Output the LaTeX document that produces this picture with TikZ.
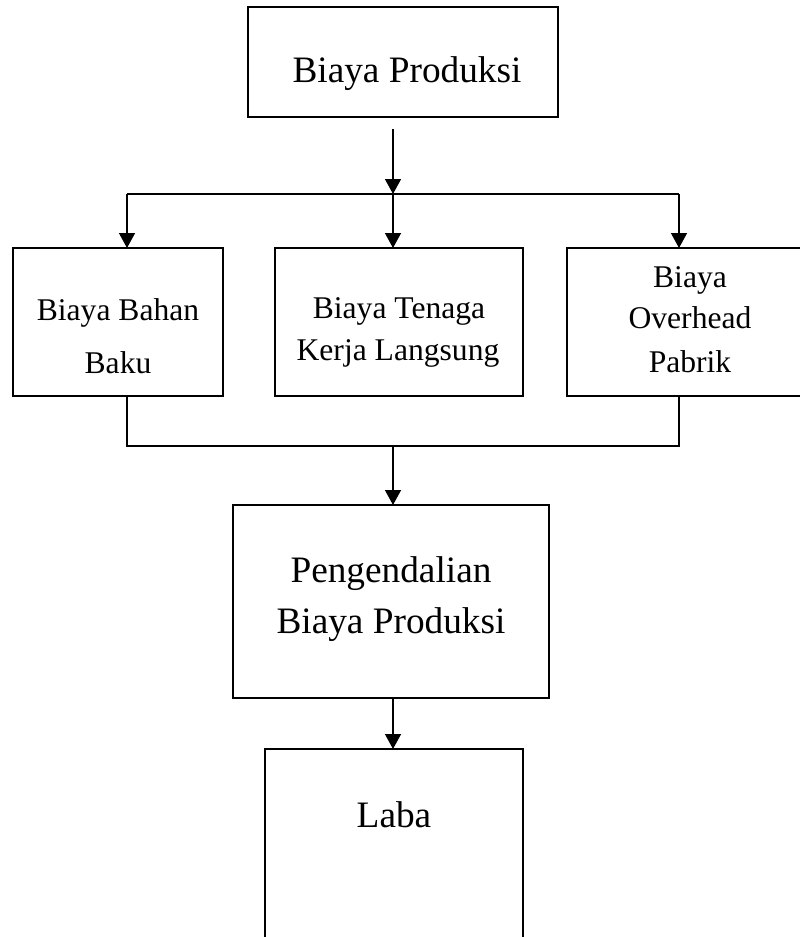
\documentclass[tikz,border=0pt]{standalone}
\usepackage{fontspec}
\setmainfont{Liberation Serif}
\usetikzlibrary{arrows.meta}
\begin{document}
\begin{tikzpicture}[x=1pt,y=-1pt,
  box/.style={draw, line width=1.4pt, inner sep=0pt, outer sep=0pt},
  big/.style={font=\fontsize{37.3}{44}\selectfont, inner sep=0pt, anchor=base},
  small/.style={font=\fontsize{31.6}{38}\selectfont, inner sep=0pt, anchor=base},
  conn/.style={line width=1.4pt},
  arr/.style={line width=1.4pt, -{Triangle[width=16pt,length=15pt]}}]
\clip (0,0) rectangle (800,937);
\fill[white] (0,0) rectangle (800,937);
% boxes
\node[box, minimum width=310pt, minimum height=110pt] (a) at (403,62) {};
\node[box, minimum width=210pt, minimum height=148pt] (b1) at (118,322) {};
\node[box, minimum width=248pt, minimum height=148pt] (b2) at (399,322) {};
\node[box, minimum width=246pt, minimum height=148pt] (b3) at (690,322) {};
\node[box, minimum width=316pt, minimum height=193pt] (c) at (391,601.5) {};
\node[box, minimum width=258pt, minimum height=250pt] (d) at (394,874) {};
% texts
\node[big] (ta) at (407,82) {Biaya Produksi};
\node[small] (tb1a) at (118,320) {Biaya Bahan};
\node[small] (tb1b) at (118,373) {Baku};
\node[small] (tb2a) at (399,318) {Biaya Tenaga};
\node[small] (tb2b) at (398,360) {Kerja Langsung};
\node[small] (tb3a) at (690,287) {Biaya};
\node[small] (tb3b) at (690,328) {Overhead};
\node[small] (tb3c) at (690,372) {Pabrik};
\node[big] (tca) at (391,582) {Pengendalian};
\node[big] (tcb) at (391,633) {Biaya Produksi};
\node[big] (td) at (394,827) {Laba};
% connectors
\coordinate (s0) at (393,129);
\coordinate (j1) at (393,194);
\coordinate (hL) at (127,194);
\coordinate (hR) at (679,194);
\coordinate (bL) at (127,446);
\coordinate (bR) at (679,446);
\coordinate (bM) at (393,446);
\draw[arr] (s0) -- (j1);
\draw[conn] (hL) -- (hR);
\draw[arr] (hL) -- (hL |- b1.north);
\draw[arr] (j1) -- (j1 |- b2.north);
\draw[arr] (hR) -- (hR |- b3.north);
\draw[conn] (hL |- b1.south) -- (bL) -- (bR) -- (hR |- b3.south);
\draw[arr] (bM) -- (bM |- c.north);
\draw[arr] (bM |- c.south) -- (bM |- d.north);
\end{tikzpicture}
\end{document}
